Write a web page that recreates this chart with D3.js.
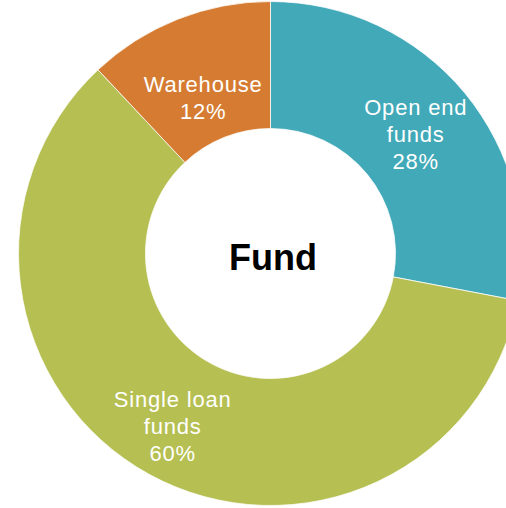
<!DOCTYPE html>
<html>
<head>
<meta charset="utf-8">
<script src="https://cdnjs.cloudflare.com/ajax/libs/d3/7.8.5/d3.min.js"></script>
<style>
  body { margin: 0; background: #fff; overflow: hidden; }
  svg { display: block; }
</style>
</head>
<body>
<div id="chart"></div>
<script>
// Chart data
var categories = ["Open end funds", "Single loan funds", "Warehouse"];
var labelLines = [["Open end", "funds"], ["Single loan", "funds"], ["Warehouse"]];
var shares = [28, 60, 12];
var colors = ["#41A9B8", "#B6BF52", "#D57C32"];

var svgWidth = 506;
var svgHeight = 508;
var cx = 270.5, cy = 253.5;
var outerR = 252, innerR = 125;

var svg = d3.select("#chart")
  .append("svg")
  .attr("width", svgWidth)
  .attr("height", svgHeight);

var chartGroup = svg.append("g")
  .attr("transform", `translate(${cx}, ${cy})`);

var pie = d3.pie()
  .sort(null)
  .value(function(d) { return d; });

var arc = d3.arc()
  .innerRadius(innerR)
  .outerRadius(outerR);

var arcs = pie(shares);

chartGroup.selectAll("path.slice")
  .data(arcs)
  .enter()
  .append("path")
  .attr("class", "slice")
  .attr("d", arc)
  .attr("fill", function(d, i) { return colors[i]; })
  .attr("stroke", "#fff")
  .attr("stroke-width", 0.75);

// nudge labels the way the original renderer placed them
var nudge = [[0, 1], [-7, 8], [2, 20]];

var labels = chartGroup.selectAll("text.label")
  .data(arcs)
  .enter()
  .append("text")
  .attr("class", "label")
  .attr("text-anchor", "middle")
  .attr("font-family", "Liberation Sans, Arial, sans-serif")
  .attr("font-size", 22)
  .attr("letter-spacing", 0.8)
  .attr("fill", "#fff")
  .each(function(d, i) {
    var c = arc.centroid(d);
    var lines = labelLines[i].concat([shares[i] + "%"]);
    var lh = 27;
    var x = c[0] + nudge[i][0];
    var y0 = c[1] + nudge[i][1] - (lines.length - 1) * lh / 2;
    var t = d3.select(this);
    lines.forEach(function(line, j) {
      t.append("tspan")
        .attr("x", x)
        .attr("y", y0 + j * lh)
        .attr("dy", "0.35em")
        .text(line);
    });
  });

// Centre title
chartGroup.append("text")
  .attr("x", 2.5)
  .attr("y", 4)
  .attr("dy", "0.35em")
  .attr("text-anchor", "middle")
  .attr("font-family", "Liberation Sans, Arial, sans-serif")
  .attr("font-size", 36)
  .attr("font-weight", "bold")
  .attr("fill", "#000")
  .text("Fund");
</script>
</body>
</html>
